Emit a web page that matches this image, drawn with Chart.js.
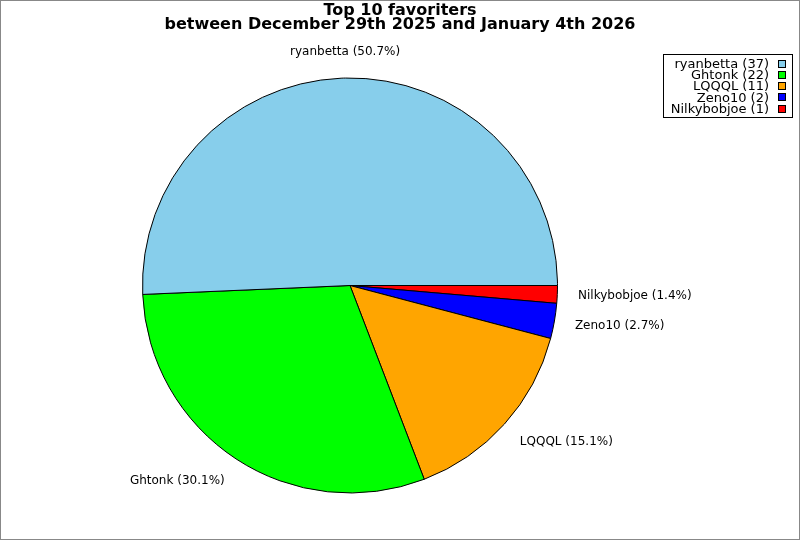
<!DOCTYPE html>
<html>
<head>
<meta charset="utf-8">
<script src="https://cdn.jsdelivr.net/npm/chart.js@4"></script>
<style>
  html, body { margin: 0; padding: 0; background: #fff; }
  canvas { display: block; }
</style>
</head>
<body>
<canvas id="favPie" width="800" height="540"></canvas>
<script>
// chart data
var names = ['ryanbetta', 'Ghtonk', 'LQQQL', 'Zeno10', 'Nilkybobjoe'];
var counts = [37, 22, 11, 2, 1];
var colours = ['#87ceeb', '#00ff00', '#ffa500', '#0000ff', '#ff0000'];
var titleLines = ['Top 10 favoriters', 'between December 29th 2025 and January 4th 2026'];

var total = counts.reduce(function (a, b) { return a + b; }, 0);

// the reference goes counter-clockwise from 3 o'clock, chart.js goes clockwise,
// so feed the slices in reverse order and start at 90 deg
var revNames = names.slice().reverse();
var revCounts = counts.slice().reverse();
var revColours = colours.slice().reverse();

var FONT = '"DejaVu Sans", sans-serif';

// title, frame, slice labels and legend box
var extras = {
    id: 'extras',
    afterDraw: function (chart) {
        var c = chart.ctx;
        c.save();

        // figure frame
        c.strokeStyle = '#888888';
        c.lineWidth = 1;
        c.strokeRect(0.5, 0.5, 799, 539);

        // title
        c.fillStyle = '#000';
        c.font = 'bold 16px ' + FONT;
        c.textAlign = 'center';
        c.textBaseline = 'alphabetic';
        c.fillText(titleLines[0], 400, 15);
        c.fillText(titleLines[1], 400, 29);

        // slice labels
        c.font = '12px ' + FONT;
        var meta = chart.getDatasetMeta(0);
        meta.data.forEach(function (arc, i) {
            var p = arc.getProps(['x', 'y', 'startAngle', 'endAngle', 'outerRadius'], true);
            var mid = (p.startAngle + p.endAngle) / 2;
            var d = p.outerRadius * 1.1;
            var cx = Math.cos(mid), sy = Math.sin(mid);
            var tx = p.x + d * cx;
            var ty = p.y + d * sy + sy * 5.5;
            if (cx > 0.1) c.textAlign = 'left';
            else if (cx < -0.1) c.textAlign = 'right';
            else c.textAlign = 'center';
            c.textBaseline = 'middle';
            var pct = (revCounts[i] / total * 100).toFixed(1);
            c.fillText(revNames[i] + ' (' + pct + '%)', tx, ty);
        });

        // legend
        c.fillStyle = '#fff';
        c.fillRect(663.5, 54.5, 129, 63);
        c.strokeStyle = '#000';
        c.strokeRect(663.5, 54.5, 129, 63);
        c.font = '13px ' + FONT;
        c.textAlign = 'right';
        c.textBaseline = 'middle';
        names.forEach(function (n, i) {
            var y = 63.5 + i * 11.3;
            c.fillStyle = '#000';
            c.fillText(n + ' (' + counts[i] + ')', 769, y + 1);
            c.fillStyle = colours[i];
            c.fillRect(778.5, Math.round(y - 4) + 0.5, 7, 7);
            c.strokeStyle = '#000';
            c.strokeRect(778.5, Math.round(y - 4) + 0.5, 7, 7);
        });

        c.restore();
    }
};

var ctx = document.getElementById('favPie').getContext('2d');
var favChart = new Chart(ctx, {
    type: 'pie',
    data: {
        labels: revNames,
        datasets: [{
            data: revCounts,
            backgroundColor: revColours,
            borderColor: '#000',
            borderWidth: 1,
            hoverOffset: 0
        }]
    },
    options: {
        responsive: false,
        animation: false,
        rotation: 90,
        layout: {
            padding: { left: 142, right: 242, top: 77, bottom: 46 }
        },
        plugins: {
            legend: { display: false },
            tooltip: { enabled: false }
        }
    },
    plugins: [extras]
});
</script>
</body>
</html>
